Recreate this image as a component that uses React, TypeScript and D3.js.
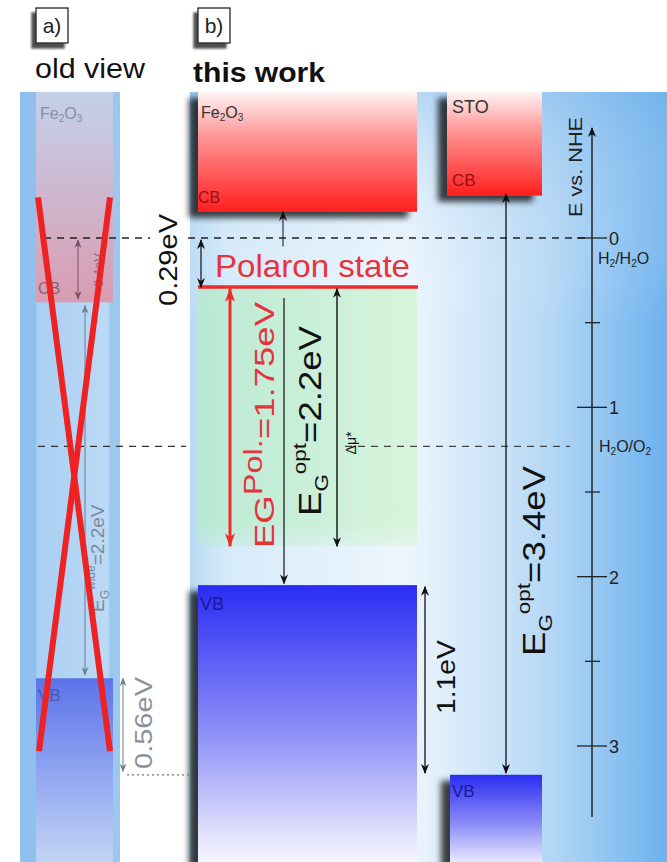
import React from "react";
import * as d3 from "d3";

// ---- data (energies in eV vs NHE) ----
const axisTicks = [0, 0.5, 1, 1.5, 2, 2.5, 3];
const axisTickLabels = ["0", "", "1", "", "2", "", "3"];
const redoxNames = ["H2/H2O", "H2O/O2"];
const redoxLevels = [0, 1.23];
const feLevels = { cb: -0.155, polaron: 0.29, polBottom: 1.82, vb: 2.05 };
const stoLevels = { cb: -0.25, vb: 3.17 };
const oldLevels = { cb: 0.38, vb: 2.6, vbBottom: 3.17 };
const gapLabels = ["0.29eV", "1.75eV", "2.2eV", "1.1eV", "3.4eV", "0.56eV", "2.2eV", "0.4eV"];

const W = 667, H = 862;
const y = d3.scaleLinear().domain([0, 3]).range([238, 746]);
const TOP = 92;
const BOT = H;
const FONT = "Liberation Sans, Arial, sans-serif";

function Arrow({ x, e1, e2, start = true, end = true, color = "#111", w = 1.3, marker = "ab" }: any) {
  return (
    <line x1={x} x2={x} y1={y(e1)} y2={y(e2)} stroke={color} strokeWidth={w}
      markerStart={start ? `url(#${marker})` : undefined}
      markerEnd={end ? `url(#${marker})` : undefined} />
  );
}

function VText({ x, yc, children, size, color = "#111", anchor = "middle", len }: any) {
  return (
    <text transform={`translate(${x},${yc}) rotate(-90)`} textAnchor={anchor} fontSize={size}
      fill={color} fontFamily={FONT} textLength={len} lengthAdjust={len ? "spacingAndGlyphs" : undefined}>{children}</text>
  );
}

export default function App() {
  const crossTop = y(-0.24);
  const crossBot = y(3.03);
  return (
    <svg width={W} height={H} style={{ position: "absolute", left: 0, top: 0, background: "#fff" }}>
      <defs>
        <linearGradient id="bgR" x1="0" x2="1" y1="0" y2="0">
          <stop offset="0" stopColor="#b9daf4" />
          <stop offset="0.08" stopColor="#d6ebf9" />
          <stop offset="0.45" stopColor="#eef6fd" />
          <stop offset="0.75" stopColor="#b6d8f5" />
          <stop offset="1" stopColor="#6cb1ee" />
        </linearGradient>
        <linearGradient id="bgRv" x1="0" x2="0" y1="0" y2="1">
          <stop offset="0" stopColor="#7ab5ea" stopOpacity="0.45" />
          <stop offset="0.3" stopColor="#ffffff" stopOpacity="0" />
          <stop offset="1" stopColor="#ffffff" stopOpacity="0" />
        </linearGradient>
        <linearGradient id="red" x1="0" x2="0" y1="0" y2="1">
          <stop offset="0" stopColor="#fff4f4" />
          <stop offset="0.35" stopColor="#ff9a9a" />
          <stop offset="1" stopColor="#ff1e1e" />
        </linearGradient>
        <linearGradient id="blue" x1="0" x2="0" y1="0" y2="1">
          <stop offset="0" stopColor="#2a2cf2" />
          <stop offset="0.5" stopColor="#8a8cf6" />
          <stop offset="1" stopColor="#ffffff" />
        </linearGradient>
        <linearGradient id="green" x1="0" x2="1" y1="0" y2="0">
          <stop offset="0" stopColor="#b8ead0" />
          <stop offset="1" stopColor="#d4f4d6" />
        </linearGradient>
        <linearGradient id="greenFade" x1="0" x2="0" y1="0" y2="1">
          <stop offset="0" stopColor="#fff" stopOpacity="1" />
          <stop offset="0.9" stopColor="#fff" stopOpacity="1" />
          <stop offset="1" stopColor="#fff" stopOpacity="0.3" />
        </linearGradient>
        <mask id="gm"><rect x={196} y={y(feLevels.polaron)} width={222} height={y(feLevels.polBottom) - y(feLevels.polaron) + 6} fill="url(#greenFade)" /></mask>
        <linearGradient id="oldCB" x1="0" x2="0" y1="0" y2="1">
          <stop offset="0" stopColor="#c4d0ea" />
          <stop offset="1" stopColor="#d99cb0" />
        </linearGradient>
        <linearGradient id="oldVB" x1="0" x2="0" y1="0" y2="1">
          <stop offset="0" stopColor="#5c72ea" />
          <stop offset="0.5" stopColor="#8ea4f0" />
          <stop offset="1" stopColor="#c2d4f5" />
        </linearGradient>
        <linearGradient id="oldStrip" x1="0" x2="1" y1="0" y2="0">
          <stop offset="0" stopColor="#8fc1ee" />
          <stop offset="0.16" stopColor="#8fc1ee" />
          <stop offset="0.17" stopColor="#a9cff3" />
          <stop offset="0.88" stopColor="#bcdaf6" />
          <stop offset="0.9" stopColor="#9cc8f0" />
          <stop offset="1" stopColor="#9cc8f0" />
        </linearGradient>
        <filter id="sh" x="-20%" y="-20%" width="140%" height="140%">
          <feGaussianBlur in="SourceAlpha" stdDeviation="3" />
          <feOffset dx="-9" dy="6" result="b" />
          <feComponentTransfer><feFuncA type="linear" slope="0.75" /></feComponentTransfer>
          <feMerge><feMergeNode /><feMergeNode in="SourceGraphic" /></feMerge>
        </filter>
        <filter id="bshadow" x="-30%" y="-30%" width="160%" height="160%">
          <feGaussianBlur in="SourceAlpha" stdDeviation="1" />
          <feOffset dx="-4" dy="5" />
          <feComponentTransfer><feFuncA type="linear" slope="0.7" /></feComponentTransfer>
          <feMerge><feMergeNode /><feMergeNode in="SourceGraphic" /></feMerge>
        </filter>
        <marker id="ab" viewBox="0 0 10 8" refX="9" refY="4" markerWidth="10" markerHeight="8" markerUnits="userSpaceOnUse" orient="auto-start-reverse">
          <path d="M0,0 L10,4 L0,8 L3,4 z" fill="#111" />
        </marker>
        <marker id="ar" viewBox="0 0 14 10" refX="13" refY="5" markerWidth="14" markerHeight="10" markerUnits="userSpaceOnUse" orient="auto-start-reverse">
          <path d="M0,0 L14,5 L0,10 L4,5 z" fill="#ee2a2a" />
        </marker>
        <marker id="ag" viewBox="0 0 10 8" refX="9" refY="4" markerWidth="9" markerHeight="7" markerUnits="userSpaceOnUse" orient="auto-start-reverse">
          <path d="M0,0 L10,4 L0,8 L3,4 z" fill="#6f7f8c" />
        </marker>
        <marker id="ap" viewBox="0 0 10 8" refX="9" refY="4" markerWidth="9" markerHeight="7" markerUnits="userSpaceOnUse" orient="auto-start-reverse">
          <path d="M0,0 L10,4 L0,8 L3,4 z" fill="#7b5064" />
        </marker>
      </defs>

      {/* headers */}
      <g filter="url(#bshadow)">
        <rect x={36} y={8} width={32} height={35} fill="#fff" stroke="#222" strokeWidth={1.3} />
        <rect x={198} y={8} width={32} height={35} fill="#fff" stroke="#222" strokeWidth={1.3} />
      </g>
      <text x={52} y={33} textAnchor="middle" fontSize={21} fontFamily={FONT} fill="#222">a)</text>
      <text x={214} y={33} textAnchor="middle" fontSize={21} fontFamily={FONT} fill="#222">b)</text>
      <text x={35} y={78} fontSize={28} fontFamily={FONT} fill="#111" textLength={110} lengthAdjust="spacingAndGlyphs">old view</text>
      <text x={193} y={82} fontSize={28} fontWeight="bold" fontFamily={FONT} fill="#111" textLength={132} lengthAdjust="spacingAndGlyphs">this work</text>

      {/* right panel background */}
      <rect x={190} y={TOP} width={W - 190} height={BOT - TOP} fill="url(#bgR)" />
      <rect x={190} y={TOP} width={W - 190} height={BOT - TOP} fill="url(#bgRv)" />

      {/* left (old view) panel */}
      <rect x={20} y={TOP} width={100} height={BOT - TOP} fill="url(#oldStrip)" />
      <rect x={36} y={TOP} width={77} height={y(oldLevels.cb) - TOP} fill="url(#oldCB)" />
      <rect x={36} y={y(oldLevels.vb)} width={77} height={BOT - y(oldLevels.vb)} fill="url(#oldVB)" />
      <text x={40} y={119} fontSize={16} fontFamily={FONT} fill="#8090a8">Fe<tspan fontSize={10} dy={3}>2</tspan><tspan dy={-3}>O</tspan><tspan fontSize={10} dy={3}>3</tspan></text>
      <text x={38} y={294} fontSize={16} fontFamily={FONT} fill="#8a6070">CB</text>
      <text x={38} y={701} fontSize={17} fontFamily={FONT} fill="#4a5ab0">VB</text>

      {/* green polaron region */}
      <rect x={198} y={y(feLevels.polaron)} width={219} height={y(feLevels.polBottom) - y(feLevels.polaron)} fill="url(#green)" mask="url(#gm)" opacity={0.85} />

      {/* dashed redox lines */}
      <line x1={44} x2={150} y1={y(redoxLevels[0])} y2={y(redoxLevels[0])} stroke="#222" strokeWidth={1.3} strokeDasharray="7,6" />
      <line x1={188} x2={590} y1={y(redoxLevels[0])} y2={y(redoxLevels[0])} stroke="#222" strokeWidth={1.3} strokeDasharray="7,6" />
      <line x1={38} x2={186} y1={y(redoxLevels[1])} y2={y(redoxLevels[1])} stroke="#333" strokeWidth={1.3} strokeDasharray="7,6" />
      <line x1={345} x2={570} y1={y(redoxLevels[1])} y2={y(redoxLevels[1])} stroke="#444" strokeWidth={1.3} strokeDasharray="7,6" />

      {/* Fe2O3 & STO bands */}
      <g filter="url(#sh)">
        <rect x={198} y={TOP} width={219} height={y(feLevels.cb) - TOP} fill="url(#red)" />
        <rect x={198} y={y(feLevels.vb)} width={219} height={BOT - y(feLevels.vb) + 10} fill="url(#blue)" />
        <rect x={447} y={TOP} width={95} height={y(stoLevels.cb) - TOP} fill="url(#red)" />
        <rect x={450} y={y(stoLevels.vb)} width={92} height={BOT - y(stoLevels.vb) + 10} fill="url(#blue)" />
      </g>
      <text x={201} y={118} fontSize={16} fontFamily={FONT} fill="#333">Fe<tspan fontSize={10} dy={3}>2</tspan><tspan dy={-3}>O</tspan><tspan fontSize={10} dy={3}>3</tspan></text>
      <text x={198} y={203} fontSize={16} fontFamily={FONT} fill="#9a1010">CB</text>
      <text x={452} y={113} fontSize={18} fontFamily={FONT} fill="#333">STO</text>
      <text x={452} y={186} fontSize={17} fontFamily={FONT} fill="#9a1010">CB</text>
      <text x={200} y={610} fontSize={18} fontFamily={FONT} fill="#1a1a9a">VB</text>
      <text x={452} y={797} fontSize={17} fontFamily={FONT} fill="#1a1a9a">VB</text>

      {/* polaron state */}
      <line x1={198} x2={418} y1={y(feLevels.polaron)} y2={y(feLevels.polaron)} stroke="#ee2a2a" strokeWidth={3.5} />
      <text x={215} y={277} fontSize={32} fontFamily={FONT} fill="#e8323c" textLength={195} lengthAdjust="spacingAndGlyphs">Polaron state</text>

      {/* arrows this work */}
      <Arrow x={283} e1={0.05} e2={feLevels.cb} start={false} w={1} />
      <Arrow x={201} e1={0.012} e2={feLevels.polaron} w={1.2} />
      <Arrow x={230} e1={feLevels.polaron + 0.01} e2={feLevels.polBottom} color="#ee2a2a" w={3} marker="ar" />
      <Arrow x={284} e1={0.355} e2={feLevels.vb - 0.01} start={false} w={1.2} />
      <Arrow x={337} e1={feLevels.polaron + 0.01} e2={feLevels.polBottom} w={1.4} />
      <Arrow x={425} e1={feLevels.vb + 0.01} e2={stoLevels.vb - 0.01} w={1.3} />
      <Arrow x={506} e1={stoLevels.cb - 0.01} e2={stoLevels.vb - 0.01} w={1.3} />

      {/* labels this work */}
      <VText x={177} yc={260} size={25} len={92}>{gapLabels[0]}</VText>
      <text transform={`translate(274,548) rotate(-90)`} fontSize={28} fill="#e8323c" fontFamily={FONT} textLength={246} lengthAdjust="spacingAndGlyphs">
        EG<tspan dy={-12} fontSize={25}>Pol.</tspan><tspan dy={12}>={gapLabels[1]}</tspan>
      </text>
      <text transform={`translate(321,516) rotate(-90)`} fontSize={31} fill="#111" fontFamily={FONT} textLength={190} lengthAdjust="spacingAndGlyphs">
        E<tspan dy={7} fontSize={19}>G</tspan><tspan dy={-22} fontSize={19}>opt</tspan><tspan dy={15}>={gapLabels[2]}</tspan>
      </text>
      <VText x={356} yc={443} size={14}>Δμ*</VText>
      <VText x={455} yc={677} size={26} len={74}>{gapLabels[3]}</VText>
      <text transform={`translate(545,656) rotate(-90)`} fontSize={31} fill="#111" fontFamily={FONT} textLength={190} lengthAdjust="spacingAndGlyphs">
        E<tspan dy={7} fontSize={19}>G</tspan><tspan dy={-22} fontSize={19}>opt</tspan><tspan dy={15}>={gapLabels[4]}</tspan>
      </text>

      {/* old view arrows and labels */}
      <Arrow x={78} e1={0.012} e2={oldLevels.cb - 0.02} color="#7b5064" w={1} marker="ap" />
      <Arrow x={85} e1={oldLevels.cb + 0.02} e2={oldLevels.vb - 0.02} color="#6f7f8c" w={1} marker="ag" />
      <Arrow x={123} e1={oldLevels.vb} e2={oldLevels.vbBottom - 0.02} color="#6f7f8c" w={1} marker="ag" />
      <line x1={127} x2={190} y1={y(oldLevels.vbBottom)} y2={y(oldLevels.vbBottom)} stroke="#777" strokeWidth={1.3} strokeDasharray="2,3" />
      <VText x={103} yc={270} size={13} color="#8a6a7a">{gapLabels[7]}</VText>
      <text transform={`translate(104,612) rotate(-90)`} fontSize={19} fill="#7d8a96" fontFamily={FONT}>
        E<tspan dy={5} fontSize={12}>G</tspan><tspan dy={-14} fontSize={12}>wide</tspan><tspan dy={9}>={gapLabels[6]}</tspan>
      </text>
      <VText x={152} yc={723} size={24} color="#8a9099" len={92}>{gapLabels[5]}</VText>

      {/* red cross */}
      <line x1={38} y1={crossTop} x2={110} y2={crossBot} stroke="#ee2222" strokeWidth={6} />
      <line x1={110} y1={crossTop} x2={39} y2={crossBot} stroke="#ee2222" strokeWidth={6} />

      {/* energy axis */}
      <line x1={592} x2={592} y1={y(3.42)} y2={y(-0.65)} stroke="#222" strokeWidth={1.5} markerEnd="url(#ab)" />
      {axisTicks.map((t, i) => (
        <g key={t}>
          <line x1={axisTickLabels[i] ? 577 : 585} x2={axisTickLabels[i] ? 607 : 600} y1={y(t)} y2={y(t)} stroke="#222" strokeWidth={1.3} />
          {axisTickLabels[i] && <text x={609} y={y(t) + 7} fontSize={18} fontFamily={FONT} fill="#222">{axisTickLabels[i]}</text>}
        </g>
      ))}
      <VText x={582} yc={167} size={18} color="#222" len={100}>E vs. NHE</VText>
      <text x={598} y={y(redoxLevels[0]) + 26} fontSize={16} fontFamily={FONT} fill="#222">H<tspan fontSize={10} dy={3}>2</tspan><tspan dy={-3}>/H</tspan><tspan fontSize={10} dy={3}>2</tspan><tspan dy={-3}>O</tspan></text>
      <text x={599} y={y(redoxLevels[1]) + 6} fontSize={16} fontFamily={FONT} fill="#222">H<tspan fontSize={10} dy={3}>2</tspan><tspan dy={-3}>O/O</tspan><tspan fontSize={10} dy={3}>2</tspan></text>
      <desc>{redoxNames.join(",")}</desc>
    </svg>
  );
}
